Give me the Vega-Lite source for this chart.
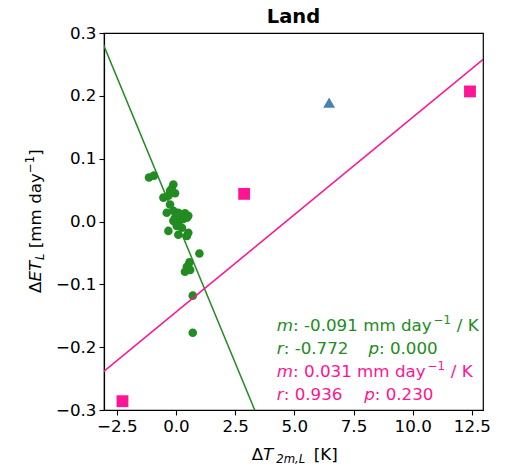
{
  "$schema": "https://vega.github.io/schema/vega-lite/v6.json",
  "width": 379,
  "height": 377,
  "autosize": {"type": "none"},
  "padding": {"left": 104, "top": 33, "right": 22, "bottom": 57},
  "background": "white",
  "datasets": {
    "green": [
      {"x": -1.14, "y": 0.070}, {"x": -0.93, "y": 0.073}, {"x": -0.11, "y": 0.059},
      {"x": -0.18, "y": 0.052}, {"x": -0.53, "y": 0.038}, {"x": -0.04, "y": 0.045},
      {"x": -0.25, "y": 0.049}, {"x": -0.32, "y": 0.041}, {"x": -0.25, "y": 0.027},
      {"x": -0.39, "y": 0.014}, {"x": -0.11, "y": 0.017}, {"x": 0.10, "y": 0.014},
      {"x": 0.38, "y": 0.013}, {"x": 0.52, "y": 0.009}, {"x": -0.04, "y": 0.006},
      {"x": 0.17, "y": 0.006}, {"x": -0.11, "y": 0.001}, {"x": 0.10, "y": -0.002},
      {"x": 0.31, "y": 0.004}, {"x": 0.46, "y": 0.006}, {"x": 0.03, "y": -0.007},
      {"x": 0.25, "y": -0.010}, {"x": -0.32, "y": -0.015}, {"x": 0.10, "y": -0.021},
      {"x": 0.46, "y": -0.023}, {"x": 0.52, "y": -0.018}, {"x": 0.99, "y": -0.051},
      {"x": 0.57, "y": -0.065}, {"x": 0.46, "y": -0.072}, {"x": 0.38, "y": -0.080},
      {"x": 0.60, "y": -0.077}, {"x": 0.71, "y": -0.118}, {"x": 0.71, "y": -0.177}
    ],
    "pink": [
      {"x": -2.26, "y": -0.286}, {"x": 2.88, "y": 0.044}, {"x": 12.42, "y": 0.207}
    ],
    "blue": [
      {"x": 6.47, "y": 0.189}
    ],
    "greenFit": [
      {"x": -3.5, "y": 0.3212}, {"x": 4.0, "y": -0.3613}
    ],
    "pinkFit": [
      {"x": -3.5, "y": -0.2527}, {"x": 13.5, "y": 0.2743}
    ],
    "one": [{}]
  },
  "config": {
    "view": {"stroke": "black", "strokeWidth": 1.2},
    "axis": {
      "grid": false,
      "labelFont": "DejaVu Sans",
      "labelFontSize": 16.7,
      "labelColor": "black",
      "tickColor": "black",
      "tickSize": 5,
      "tickWidth": 1.1,
      "domainColor": "black",
      "domainWidth": 1.2,
      "labelPadding": 3
    },
    "text": {"font": "DejaVu Sans", "align": "left", "baseline": "alphabetic"}
  },
  "layer": [
    {
      "data": {"name": "green"},
      "mark": {"type": "circle", "color": "#228B22", "opacity": 1, "size": 74},
      "encoding": {
        "x": {
          "field": "x", "type": "quantitative", "title": null,
          "scale": {"domain": [-3.04, 12.97], "nice": false, "zero": false},
          "axis": {"values": [-2.5, 0, 2.5, 5, 7.5, 10, 12.5], "format": ".1f", "labelFlush": false}
        },
        "y": {
          "field": "y", "type": "quantitative", "title": null,
          "scale": {"domain": [-0.3, 0.3], "nice": false, "zero": false},
          "axis": {"values": [-0.3, -0.2, -0.1, 0, 0.1, 0.2, 0.3], "format": ".1f", "labelFlush": false}
        }
      }
    },
    {
      "data": {"name": "pink"},
      "mark": {"type": "square", "color": "#FF1493", "opacity": 1, "size": 140},
      "encoding": {
        "x": {"field": "x", "type": "quantitative", "title": null},
        "y": {"field": "y", "type": "quantitative", "title": null}
      }
    },
    {
      "data": {"name": "blue"},
      "mark": {"type": "point", "shape": "triangle-up", "filled": true, "color": "#4682B4", "opacity": 1, "size": 140},
      "encoding": {
        "x": {"field": "x", "type": "quantitative", "title": null},
        "y": {"field": "y", "type": "quantitative", "title": null}
      }
    },
    {
      "data": {"name": "greenFit"},
      "mark": {"type": "line", "color": "#228B22", "strokeWidth": 1.5, "clip": true},
      "encoding": {
        "x": {"field": "x", "type": "quantitative", "title": null},
        "y": {"field": "y", "type": "quantitative", "title": null}
      }
    },
    {
      "data": {"name": "pinkFit"},
      "mark": {"type": "line", "color": "#FF1493", "strokeWidth": 1.5, "clip": true},
      "encoding": {
        "x": {"field": "x", "type": "quantitative", "title": null},
        "y": {"field": "y", "type": "quantitative", "title": null}
      }
    },

    {"data": {"name": "one"}, "mark": {"type": "text", "text": "Land", "align": "center", "fontWeight": "bold", "fontSize": 19.5, "color": "black", "dy": -9.7},
     "encoding": {"x": {"datum": 4.965, "type": "quantitative"}, "y": {"datum": 0.3, "type": "quantitative"}}},

    {"data": {"name": "one"}, "mark": {"type": "text", "text": "m", "fontStyle": "italic", "fontSize": 16.7, "color": "#228B22"},
     "encoding": {"x": {"datum": 4.26, "type": "quantitative"}, "y": {"datum": -0.1736, "type": "quantitative"}}},
    {"data": {"name": "one"}, "mark": {"type": "text", "text": ": -0.091 mm day", "fontSize": 16.7, "color": "#228B22", "dx": 16.3},
     "encoding": {"x": {"datum": 4.26, "type": "quantitative"}, "y": {"datum": -0.1736, "type": "quantitative"}}},
    {"data": {"name": "one"}, "mark": {"type": "text", "text": "−1", "fontSize": 11.7, "color": "#228B22", "dx": 157, "dy": -7},
     "encoding": {"x": {"datum": 4.26, "type": "quantitative"}, "y": {"datum": -0.1736, "type": "quantitative"}}},
    {"data": {"name": "one"}, "mark": {"type": "text", "text": "/ K", "fontSize": 16.7, "color": "#228B22", "dx": 180},
     "encoding": {"x": {"datum": 4.26, "type": "quantitative"}, "y": {"datum": -0.1736, "type": "quantitative"}}},

    {"data": {"name": "one"}, "mark": {"type": "text", "text": "r", "fontStyle": "italic", "fontSize": 16.7, "color": "#228B22"},
     "encoding": {"x": {"datum": 4.26, "type": "quantitative"}, "y": {"datum": -0.2103, "type": "quantitative"}}},
    {"data": {"name": "one"}, "mark": {"type": "text", "text": ": -0.772", "fontSize": 16.7, "color": "#228B22", "dx": 6.9},
     "encoding": {"x": {"datum": 4.26, "type": "quantitative"}, "y": {"datum": -0.2103, "type": "quantitative"}}},
    {"data": {"name": "one"}, "mark": {"type": "text", "text": "p", "fontStyle": "italic", "fontSize": 16.7, "color": "#228B22"},
     "encoding": {"x": {"datum": 8.13, "type": "quantitative"}, "y": {"datum": -0.2103, "type": "quantitative"}}},
    {"data": {"name": "one"}, "mark": {"type": "text", "text": ": 0.000", "fontSize": 16.7, "color": "#228B22", "dx": 10.6},
     "encoding": {"x": {"datum": 8.13, "type": "quantitative"}, "y": {"datum": -0.2103, "type": "quantitative"}}},

    {"data": {"name": "one"}, "mark": {"type": "text", "text": "m", "fontStyle": "italic", "fontSize": 16.7, "color": "#FF1493"},
     "encoding": {"x": {"datum": 4.26, "type": "quantitative"}, "y": {"datum": -0.2474, "type": "quantitative"}}},
    {"data": {"name": "one"}, "mark": {"type": "text", "text": ": 0.031 mm day", "fontSize": 16.7, "color": "#FF1493", "dx": 16.3},
     "encoding": {"x": {"datum": 4.26, "type": "quantitative"}, "y": {"datum": -0.2474, "type": "quantitative"}}},
    {"data": {"name": "one"}, "mark": {"type": "text", "text": "−1", "fontSize": 11.7, "color": "#FF1493", "dx": 151, "dy": -7},
     "encoding": {"x": {"datum": 4.26, "type": "quantitative"}, "y": {"datum": -0.2474, "type": "quantitative"}}},
    {"data": {"name": "one"}, "mark": {"type": "text", "text": "/ K", "fontSize": 16.7, "color": "#FF1493", "dx": 174},
     "encoding": {"x": {"datum": 4.26, "type": "quantitative"}, "y": {"datum": -0.2474, "type": "quantitative"}}},

    {"data": {"name": "one"}, "mark": {"type": "text", "text": "r", "fontStyle": "italic", "fontSize": 16.7, "color": "#FF1493"},
     "encoding": {"x": {"datum": 4.26, "type": "quantitative"}, "y": {"datum": -0.2845, "type": "quantitative"}}},
    {"data": {"name": "one"}, "mark": {"type": "text", "text": ": 0.936", "fontSize": 16.7, "color": "#FF1493", "dx": 6.9},
     "encoding": {"x": {"datum": 4.26, "type": "quantitative"}, "y": {"datum": -0.2845, "type": "quantitative"}}},
    {"data": {"name": "one"}, "mark": {"type": "text", "text": "p", "fontStyle": "italic", "fontSize": 16.7, "color": "#FF1493"},
     "encoding": {"x": {"datum": 7.95, "type": "quantitative"}, "y": {"datum": -0.2845, "type": "quantitative"}}},
    {"data": {"name": "one"}, "mark": {"type": "text", "text": ": 0.230", "fontSize": 16.7, "color": "#FF1493", "dx": 10.6},
     "encoding": {"x": {"datum": 7.95, "type": "quantitative"}, "y": {"datum": -0.2845, "type": "quantitative"}}},

    {"data": {"name": "one"}, "mark": {"type": "text", "text": "Δ", "fontSize": 16.7, "color": "black", "dy": 50},
     "encoding": {"x": {"datum": 3.2, "type": "quantitative"}, "y": {"datum": -0.3, "type": "quantitative"}}},
    {"data": {"name": "one"}, "mark": {"type": "text", "text": "T", "fontStyle": "italic", "fontSize": 16.7, "color": "black", "dx": 11.4, "dy": 50},
     "encoding": {"x": {"datum": 3.2, "type": "quantitative"}, "y": {"datum": -0.3, "type": "quantitative"}}},
    {"data": {"name": "one"}, "mark": {"type": "text", "text": "2m,L", "fontStyle": "italic", "fontSize": 11.7, "color": "black", "dx": 24.5, "dy": 53},
     "encoding": {"x": {"datum": 3.2, "type": "quantitative"}, "y": {"datum": -0.3, "type": "quantitative"}}},
    {"data": {"name": "one"}, "mark": {"type": "text", "text": "[K]", "fontSize": 16.7, "color": "black", "dx": 62, "dy": 50},
     "encoding": {"x": {"datum": 3.2, "type": "quantitative"}, "y": {"datum": -0.3, "type": "quantitative"}}},

    {"data": {"name": "one"}, "mark": {"type": "text", "text": "Δ", "angle": 270, "fontSize": 16.7, "color": "black", "dx": -71.4, "dy": -63},
     "encoding": {"x": {"datum": -3.04, "type": "quantitative"}, "y": {"datum": 0, "type": "quantitative"}}},
    {"data": {"name": "one"}, "mark": {"type": "text", "text": "ET", "angle": 270, "fontStyle": "italic", "fontSize": 16.7, "color": "black", "dx": -60, "dy": -63},
     "encoding": {"x": {"datum": -3.04, "type": "quantitative"}, "y": {"datum": 0, "type": "quantitative"}}},
    {"data": {"name": "one"}, "mark": {"type": "text", "text": "L", "angle": 270, "fontStyle": "italic", "fontSize": 11.7, "color": "black", "dx": -38.6, "dy": -60},
     "encoding": {"x": {"datum": -3.04, "type": "quantitative"}, "y": {"datum": 0, "type": "quantitative"}}},
    {"data": {"name": "one"}, "mark": {"type": "text", "text": "[mm day", "angle": 270, "fontSize": 16.7, "color": "black", "dx": -26.7, "dy": -63},
     "encoding": {"x": {"datum": -3.04, "type": "quantitative"}, "y": {"datum": 0, "type": "quantitative"}}},
    {"data": {"name": "one"}, "mark": {"type": "text", "text": "−1", "angle": 270, "fontSize": 11.7, "color": "black", "dx": 48.5, "dy": -70},
     "encoding": {"x": {"datum": -3.04, "type": "quantitative"}, "y": {"datum": 0, "type": "quantitative"}}},
    {"data": {"name": "one"}, "mark": {"type": "text", "text": "]", "angle": 270, "fontSize": 16.7, "color": "black", "dx": 65.7, "dy": -63},
     "encoding": {"x": {"datum": -3.04, "type": "quantitative"}, "y": {"datum": 0, "type": "quantitative"}}}
  ]
}
